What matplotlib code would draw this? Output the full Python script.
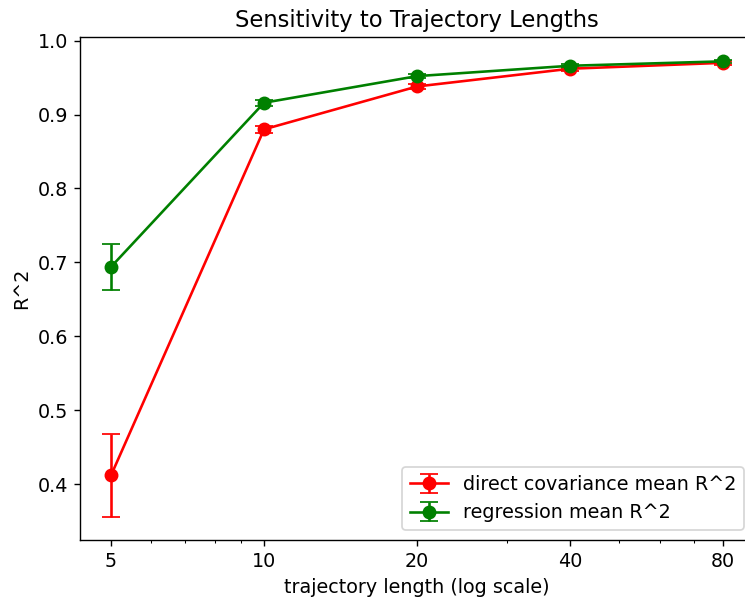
import numpy as np
import matplotlib
matplotlib.use("Agg")
import matplotlib.pyplot as plt

plt.rcParams['font.size'] = 11

lengths = [5, 10, 20, 40, 80]
direct_mean = [0.412, 0.880, 0.938, 0.962, 0.970]
direct_err = [0.056, 0.005, 0.004, 0.003, 0.003]
regr_mean = [0.694, 0.916, 0.952, 0.966, 0.972]
regr_err = [0.031, 0.004, 0.003, 0.003, 0.002]

fig = plt.figure(figsize=(5.96, 4.8), dpi=125)
ax = fig.add_axes([0.108, 0.1008, 0.9036, 0.8375])

ax.errorbar(lengths, direct_mean, yerr=direct_err, fmt='-o', color='red',
            capsize=5, markersize=7, label='direct covariance mean R^2')
ax.errorbar(lengths, regr_mean, yerr=regr_err, fmt='-o', color='green',
            capsize=5, markersize=7, label='regression mean R^2')

ax.set_xscale('log')
ax.set_xticks(lengths)
ax.set_xticklabels([str(v) for v in lengths])
ax.set_xlabel('trajectory length (log scale)')
ax.set_ylabel('R^2')
ax.set_title('Sensitivity to Trajectory Lengths', fontsize=13)
ax.legend(loc='lower right')

fig.savefig('out.png', dpi=125)
